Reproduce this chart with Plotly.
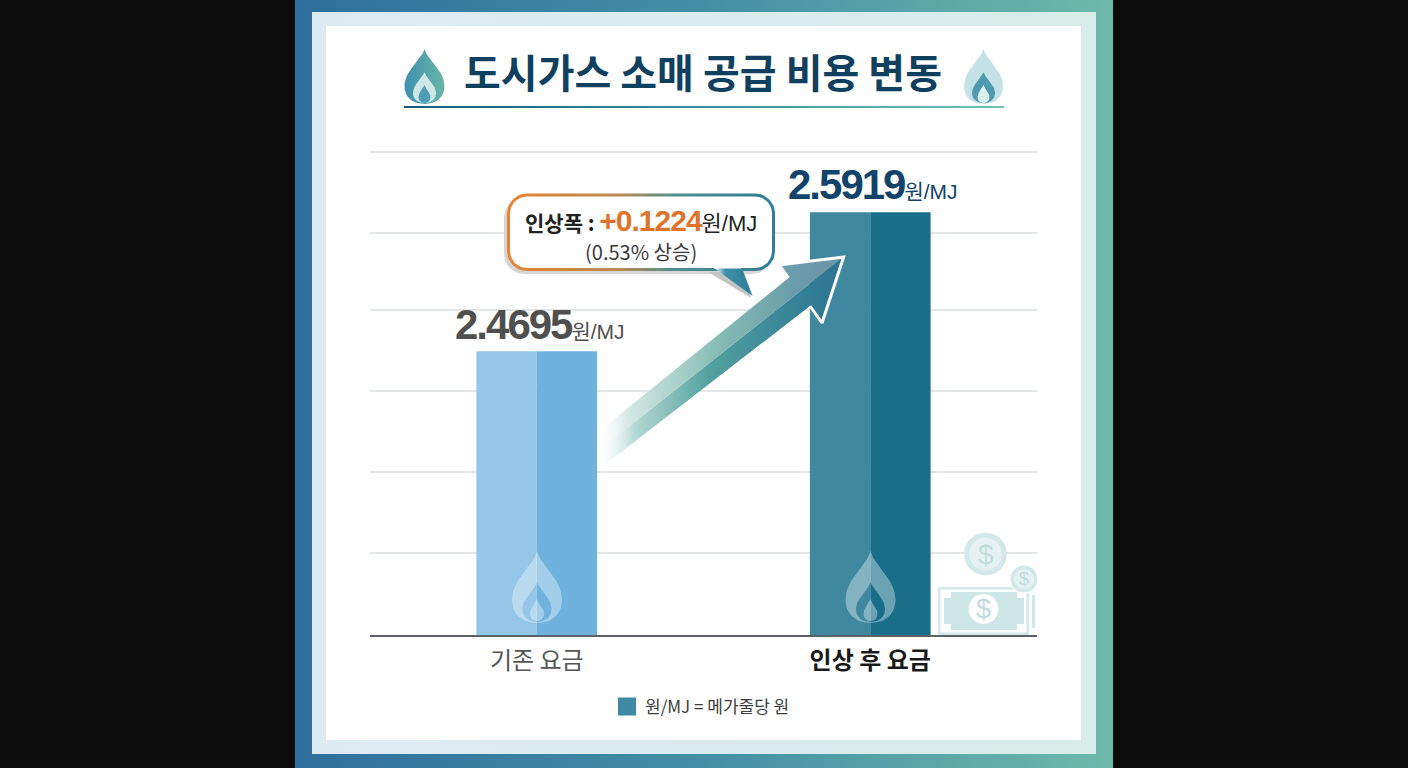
import numpy as np
import plotly.graph_objects as go

# Chart content
TITLE = "도시가스 소매 공급 비용 변동"
CATEGORIES = ["기존 요금", "인상 후 요금"]
RATES = [2.4695, 2.5919]
UNIT = "원/MJ"
RISE_NOTE = "(0.53% 상승)"
LEGEND_TEXT = "원/MJ = 메가줄당 원"
GRID_VALUES = [2.2916, 2.3630, 2.4344, 2.5057, 2.5735, 2.6449]
AXIS_RANGE = [2.2194, 2.6485]

# Palette
BAR_LEFT = ["#93C6E7", "#3F889F"]
BAR_RIGHT = ["#70B2DE", "#196F8A"]
LABEL_COLORS = ["#4F4F4F", "#12436A"]
NAVY = "#10405F"
PALE = "#D3E8E8"
PALE_DEEP = "#C0DCDC"

KR = "Noto Sans CJK KR"
LATIN = "Liberation Sans, Noto Sans CJK KR"


def round_rect(x0, y0, x1, y1, r):
    t = np.linspace(0, np.pi / 2, 12)
    xs, ys = [], []
    for cx, cy, a in [(x1 - r, y0 + r, -np.pi / 2), (x1 - r, y1 - r, 0),
                      (x0 + r, y1 - r, np.pi / 2), (x0 + r, y0 + r, np.pi)]:
        xs += list(cx + r * np.cos(t + a))
        ys += list(cy + r * np.sin(t + a))
    return xs + xs[:1], ys + ys[:1]


def circle(cx, cy, r):
    t = np.linspace(0, 2 * np.pi, 60)
    return list(cx + r * np.cos(t)), list(cy + r * np.sin(t))


def bezier(p0, p1, p2, p3, n=24):
    t = np.linspace(0, 1, n)[:, None]
    p = [np.array(q, float) for q in (p0, p1, p2, p3)]
    return (1 - t) ** 3 * p[0] + 3 * (1 - t) ** 2 * t * p[1] + 3 * (1 - t) * t ** 2 * p[2] + t ** 3 * p[3]


def flame(cx, top, bottom, half):
    a = bezier((0, 0), (0.16, 0.22), (1, 0.38), (1, 0.68))
    b = bezier((1, 0.68), (1, 0.88), (0.58, 1), (0, 1))
    right = np.vstack([a, b])
    left = right[::-1] * [-1, 1]
    pts = np.vstack([right, left])
    return list(cx + pts[:, 0] * half), list(top + pts[:, 1] * (bottom - top))


fig = go.Figure()


def poly(xs, ys, axis="3", color=None, gradient=None, line=None, line_width=0):
    kw = {}
    if gradient is not None:
        kw["fillgradient"] = dict(type="horizontal", colorscale=gradient)
    else:
        kw["fillcolor"] = color
    fig.add_trace(go.Scatter(
        x=xs, y=ys, xaxis="x" + axis, yaxis="y" + axis, mode="lines", fill="toself",
        line=dict(color=line or "rgba(0,0,0,0)", width=line_width),
        hoverinfo="skip", showlegend=False, **kw))


def box(x0, y0, x1, y1):
    return [x0, x1, x1, x0, x0], [y0, y0, y1, y1, y0]


def number_span(text, size, color=None, spacing=-2.0):
    color_css = f"color:{color};" if color else ""
    return (f"<span style=\"font-family:{LATIN};font-size:{size}px;{color_css}"
            f"letter-spacing:{spacing}px\"><b>{text}</b></span>")


def unit_span(size):
    return f"<span style=\"font-family:{LATIN};font-size:{size}px\">{UNIT}</span>"


# Backing frame, drawn under the chart
poly(*box(295, 0, 1113, 768), axis="", gradient=[[0, "#2F6F9C"], [0.5, "#438FA6"], [1, "#6DB9A9"]])
poly(*box(312, 12, 1096, 754), axis="", gradient=[[0, "#DCEBF2"], [1, "#D8EDEA"]])
poly(*box(326, 26, 1081, 740), axis="", color="#FFFFFF")

# Two-tone bars on the value axis
for colors, offset in [(BAR_LEFT, -0.181), (BAR_RIGHT, 0.0)]:
    fig.add_trace(go.Bar(
        x=CATEGORIES, y=RATES, xaxis="x2", yaxis="y2", width=0.181, offset=offset,
        marker=dict(color=colors, line=dict(width=0)), showlegend=False, hoverinfo="x+y"))

# Title underline
poly(*box(404, 106, 1004, 108), gradient=[[0, "#1D5A7C"], [0.5, "#3D8C9E"], [1, "#73C0AE"]])

# Title flames
poly(*flame(424.5, 49, 104, 20), gradient=[[0, "#3F8FAE"], [1, "#66B7A8"]])
poly(*flame(424.5, 72, 103, 11.5), color="#CFE6E7")
poly(*flame(424.5, 85, 103, 6), color="#4D9DB6")
poly(*flame(983.5, 49, 104, 19.5), color="#C4E2E5")
poly(*flame(983.5, 72, 103, 11.5), color="#4E9AB1")
poly(*flame(983.5, 85, 103, 6), color="#DDF0F0")

# Watermark flames on the bars
for cx in (537, 870.5):
    ox, oy = flame(cx, 551, 623, 25)
    mx, my = flame(cx, 582, 622, 14.5)
    poly(ox + [None] + mx[::-1], oy + [None] + my[::-1], color="rgba(255,255,255,0.36)")
    poly(*flame(cx, 599, 621, 7), color="rgba(255,255,255,0.36)")

# Money icon
poly(*circle(985.5, 554, 21.5), color=PALE)
poly(*circle(985.5, 554, 16.5), color="#E6F2F2")
poly(*box(938, 587, 1029, 635), color=PALE)
poly(*box(940.5, 589.5, 1026.5, 632.5), color="#FFFFFF")
poly([951, 1017, 1017, 1024, 1024, 1017, 1017, 951, 951, 944, 944, 951, 951],
     [592, 592, 598, 598, 624, 624, 630, 630, 624, 624, 598, 598, 592], color="#CCE5E5")
poly(*circle(983.5, 609, 15), color="#FFFFFF")
poly(*box(1032, 595, 1035, 628), color=PALE)
poly(*circle(1024, 579, 14.5), color="#FFFFFF")
poly(*circle(1024, 579, 13.5), color=PALE)
poly(*circle(1024, 579, 10), color="#E6F2F2")

# Rising arrow between the two bars
tip = (843.6, 257)
tail_mid = (598, 451)
poly([tail_mid[0], 598, 788.5, 779, tip[0], tail_mid[0]],
     [tail_mid[1], 432, 278, 265, tip[1], tail_mid[1]],
     gradient=[[0, "rgba(255,255,255,0.2)"], [0.12, "#D5E8E4"], [0.5, "#84BBB3"], [0.8, "#6A9DAB"], [1, "#6F93A9"]])
poly([tail_mid[0], tip[0], 822, 810, 598, tail_mid[0]],
     [tail_mid[1], tip[1], 323, 306, 470, tail_mid[1]],
     gradient=[[0, "rgba(255,255,255,0.2)"], [0.15, "#B5D8D2"], [0.45, "#53A19F"], [0.75, "#3A8798"], [1, "#2A7192"]])
fig.add_trace(go.Scatter(
    x=[788.5, 779, tip[0], 822, 810], y=[278, 265, tip[1], 323, 306],
    xaxis="x3", yaxis="y3", mode="lines", line=dict(color="#FFFFFF", width=3),
    hoverinfo="skip", showlegend=False))

# Callout with its tail and soft shadow
sx, sy = round_rect(504, 198, 772, 274, 20)
poly(sx, sy, color="#D6D6D6")
poly([708, 743, 751, 708], [272, 272, 298, 272], color="#C4C4C4")
bx, by = round_rect(507, 193.5, 775, 271, 20)
poly(bx, by, gradient=[[0, "#E9832F"], [0.42, "#B98B50"], [0.62, "#4F8F8C"], [1, "#2F7D98"]])
ix, iy = round_rect(510, 196.5, 772, 268, 17)
poly(ix, iy, color="#FFFFFF")
poly([714, 742, 752.5, 714], [268, 268, 296, 268], gradient=[[0, "#FFFFFF"], [0.3, "#3E8FA8"], [1, "#2F7D98"]])
poly([714, 741, 741, 714], [264, 264, 268.5, 268.5], color="#FFFFFF")

# Legend swatch
fig.add_trace(go.Scatter(
    x=[627], y=[706.5], xaxis="x3", yaxis="y3", mode="markers",
    marker=dict(symbol="square", size=18, color="#3E8BA3", line=dict(width=0)),
    hoverinfo="skip", showlegend=False))

annotations = []
# Value labels pinned to the bar tops
for cat, val, col, shift in zip(CATEGORIES, RATES, LABEL_COLORS, (27, 28)):
    annotations.append(dict(
        x=cat, y=val, xref="x2", yref="y2", yshift=shift, xshift=3, showarrow=False,
        text=number_span(f"{val:.4f}", 42) + unit_span(21),
        font=dict(family=LATIN, size=42, color=col), yanchor="middle"))

rise = RATES[1] - RATES[0]
callout = (f"<span style=\"font-size:21px\"><b>인상폭 : </b></span>"
           + number_span(f"+{rise:.4f}", 30, "#E0732A", -1.0) + unit_span(22)
           + f"<br><span style=\"font-size:20px;color:#3A3A3A\">{RISE_NOTE}</span>")
annotations.append(dict(
    x=641, y=235, xref="x3", yref="y3", showarrow=False, yanchor="middle", align="center",
    text=callout, font=dict(family=KR, size=22, color="#222222")))
annotations.append(dict(
    x=642.5, y=705, xref="x3", yref="y3", showarrow=False, xanchor="left", yanchor="middle",
    text=LEGEND_TEXT, font=dict(family=KR, size=17, color="#3D3D3D")))
for cx, cy, size in [(985.5, 554, 28), (983.5, 609, 27), (1024, 579, 18)]:
    annotations.append(dict(
        x=cx, y=cy, xref="x3", yref="y3", showarrow=False, yanchor="middle", text="$",
        font=dict(family="Liberation Sans", size=size, color=PALE_DEEP)))

pixel_x = dict(domain=[0, 1], range=[0, 1408], visible=False, fixedrange=True)
pixel_y = dict(domain=[0, 1], range=[768, 0], visible=False, fixedrange=True)
fig.update_layout(
    width=1408, height=768, autosize=False, margin=dict(l=0, r=0, t=0, b=0),
    paper_bgcolor="#0C0C0C", plot_bgcolor="rgba(0,0,0,0)", barmode="overlay",
    showlegend=False, annotations=annotations,
    title=dict(text=f"<b>{TITLE}</b>", x=703 / 1408, y=1 - 74 / 768, xref="paper", yref="paper",
               xanchor="center", yanchor="middle", font=dict(family=KR, size=40, color=NAVY)),
    xaxis=dict(pixel_x, anchor="y"),
    yaxis=dict(pixel_y, anchor="x"),
    xaxis2=dict(domain=[370 / 1408, 1037 / 1408], type="category",
                categoryorder="array", categoryarray=CATEGORIES, range=[-0.5, 1.5], anchor="y2",
                tickmode="array", tickvals=CATEGORIES,
                ticktext=[CATEGORIES[0], f"<b><span style=\"color:#1A1A1A\">{CATEGORIES[1]}</span></b>"],
                tickfont=dict(family=KR, size=24, color="#555555"),
                ticks="outside", ticklen=3, tickcolor="rgba(0,0,0,0)",
                showline=True, linecolor="#5A6266", linewidth=1.5, showgrid=False, fixedrange=True),
    yaxis2=dict(domain=[1 - 635 / 768, 1 - 148 / 768], range=AXIS_RANGE, anchor="x2",
                tickmode="array", tickvals=GRID_VALUES, showticklabels=False, ticks="",
                showgrid=True, gridcolor="#E3E6E6", gridwidth=1.5, zeroline=False, showline=False,
                fixedrange=True),
    xaxis3=dict(pixel_x, anchor="y3"),
    yaxis3=dict(pixel_y, anchor="x3"),
)

fig.write_html("out.html", config=dict(displayModeBar=False))
